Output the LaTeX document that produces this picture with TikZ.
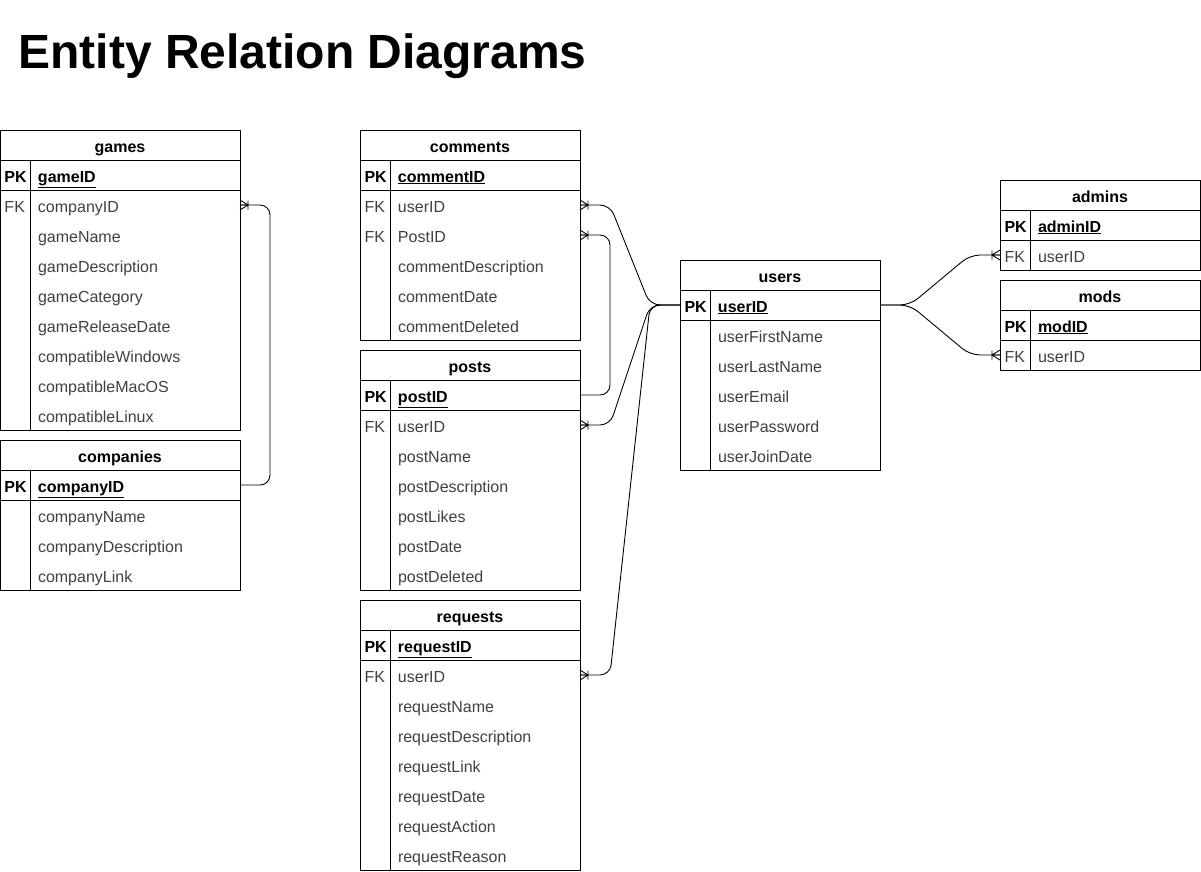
\documentclass[tikz,border=0pt]{standalone}
\usepackage{fontspec}
\setmainfont{Liberation Sans}
\usepackage{tikz}
\usetikzlibrary{positioning}
\definecolor{fieldgray}{rgb}{0.25,0.25,0.25}
\newcommand{\erfont}{\fontsize{16}{19}\selectfont}

\tikzset{
  ertitle/.style={anchor=north west, minimum height=30pt, inner sep=0pt, outer sep=0pt,
    text height=16pt, text depth=2pt, font=\erfont\bfseries},
  errow/.style={minimum height=30pt, inner sep=0pt, outer sep=0pt,
    text height=16pt, text depth=2pt, font=\erfont},
  erkeyrow/.style={errow, font=\erfont\bfseries},
  erfield/.style={errow, text=fieldgray},
  erlink/.style={rounded corners=10pt},
  crowfoot/.pic={\draw (0,-5) -- (8,0) -- (0,5) (0,0) -- (8,0) (8,-4.5) -- (8,4.5);}
}

% #1 name, #2 position, #3 width, #4 primary key, #5 key/field rows
\newcommand{\ertable}[5]{%
  \node[ertitle, minimum width=#3pt] (#1) at #2 {#1};
  \node[erkeyrow, below=0pt of #1] (#1-#4)
    {\makebox[#3pt][l]{\hspace{4.5pt}\makebox[33.5pt][l]{PK}\underline{#4}}};
  \foreach \k/\f [remember=\f as \prev (initially #4)] in {#5} {
    \node[erfield, below=0pt of #1-\prev] (#1-\f)
      {\makebox[#3pt][l]{\hspace{4.5pt}\makebox[33.5pt][l]{\k}\f}};
    \xdef\erlast{#1-\f}
  }
  \draw (#1.north west) rectangle (\erlast.south east);
  \draw (#1.south west) -- (#1.south east) (#1-#4.south west) -- (#1-#4.south east);
  \draw ([xshift=30pt]#1-#4.north west) -- ([xshift=30pt]\erlast.south west);
}

\begin{document}
\begin{tikzpicture}[x=1pt, y=-1pt, line width=0.9pt, font=\erfont]
	\useasboundingbox (0,0) rectangle (1201,871);

	\node[anchor=base west, inner sep=0pt, font=\fontsize{48}{56}\selectfont\bfseries] (title) at (18,68) {Entity Relation Diagrams};

	% tables
	\ertable{games}{(0,130)}{240}{gameID}{FK/companyID, /gameName, /gameDescription, /gameCategory, /gameReleaseDate, /compatibleWindows, /compatibleMacOS, /compatibleLinux}
	\ertable{companies}{(0,440)}{240}{companyID}{/companyName, /companyDescription, /companyLink}
	\ertable{comments}{(360,130)}{220}{commentID}{FK/userID, FK/PostID, /commentDescription, /commentDate, /commentDeleted}
	\ertable{posts}{(360,350)}{220}{postID}{FK/userID, /postName, /postDescription, /postLikes, /postDate, /postDeleted}
	\ertable{requests}{(360,600)}{220}{requestID}{FK/userID, /requestName, /requestDescription, /requestLink, /requestDate, /requestAction, /requestReason}
	\ertable{users}{(680,260)}{200}{userID}{/userFirstName, /userLastName, /userEmail, /userPassword, /userJoinDate}
	\ertable{admins}{(1000,180)}{200}{adminID}{FK/userID}
	\ertable{mods}{(1000,280)}{200}{modID}{FK/userID}

	% relations
	\draw[erlink] (games-companyID.east) -- ++(30,0) |- (companies-companyID.east);
	\draw[erlink] (posts-postID.east) -- ++(30,0) |- (comments-PostID.east);
	\foreach \t in {comments, posts, requests}
		\draw[erlink] (\t-userID.east) -- ++(30,0) -- ([xshift=-30pt]users-userID.west) -- (users-userID.west);
	\foreach \t in {admins, mods}
		\draw[erlink] (users-userID.east) -- ++(30,0) -- ([xshift=-30pt]\t-userID.west) -- (\t-userID.west);

	% many ends
	\foreach \e in {games-companyID, comments-userID, comments-PostID, posts-userID, requests-userID}
		\pic at (\e.east) {crowfoot};
	\foreach \e in {admins-userID, mods-userID}
		\pic[xscale=-1] at (\e.west) {crowfoot};

\end{tikzpicture}
\end{document}
